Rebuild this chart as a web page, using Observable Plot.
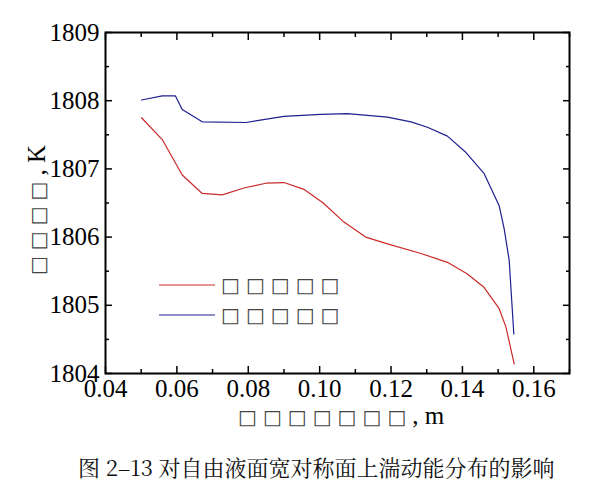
<!DOCTYPE html>
<html><head><meta charset="utf-8">
<script src="https://cdn.jsdelivr.net/npm/d3@7"></script>
<script src="https://cdn.jsdelivr.net/npm/@observablehq/plot@0.6"></script>
<style>
body{margin:0;background:#fff;}
#wrap{position:relative;width:616px;height:481px;font-family:"Liberation Serif",serif;color:#000;}
#wrap svg{position:absolute;left:0;top:0;}
.lab{position:absolute;white-space:nowrap;color:#000;line-height:1;font-family:"Liberation Serif",serif;}
.box{font-family:"DejaVu Sans";font-size:20px;letter-spacing:6px;color:#444;}
</style></head><body><div id="wrap"></div>
<script>
// Red series
const redX = [0.0501,0.0559,0.0615,0.0671,0.0727,0.0788,0.0849,0.0900,0.0956,0.1010,0.1068,0.1129,0.1190,0.1284,0.1358,0.1414,0.1461,0.1503,0.1522,0.1545];
const redY = [1807.75,1807.43,1806.91,1806.64,1806.62,1806.72,1806.79,1806.80,1806.70,1806.50,1806.22,1806.00,1805.90,1805.76,1805.63,1805.46,1805.26,1804.95,1804.68,1804.14];
// Blue series
const blueX = [0.0501,0.0559,0.0596,0.0615,0.0671,0.0793,0.0900,0.1003,0.1078,0.1190,0.1256,0.1302,0.1358,0.1410,0.1461,0.1503,0.1517,0.1531,0.1544];
const blueY = [1808.01,1808.07,1808.07,1807.87,1807.69,1807.68,1807.77,1807.80,1807.81,1807.76,1807.69,1807.61,1807.48,1807.24,1806.93,1806.46,1806.12,1805.66,1804.58];
const seriesNames = ["□□□□□","□□□□□"];
const seriesColors = ["#cc2a2a","#1f1f8f"];
const xMajor = [0.04,0.06,0.08,0.10,0.12,0.14,0.16];
const xMinor = [0.05,0.07,0.09,0.11,0.13,0.15,0.17];
const yMajor = [1804,1805,1806,1807,1808,1809];
const yMinor = [1804.5,1805.5,1806.5,1807.5,1808.5];
const xLabel = "□□□□□□□";
const xUnit = ", m";
const yLabel = "□□□□";
const yUnit = ", K";
const caption = "图 2–13 对自由液面宽对称面上湍动能分布的影响";

const red = redX.map((x,i)=>({x, y:redY[i]}));
const blue = blueX.map((x,i)=>({x, y:blueY[i]}));
const blank = () => "";
const FF = "Liberation Serif";

const plot = Plot.plot({
  width: 616, height: 440,
  marginLeft: 105, marginRight: 47, marginTop: 32, marginBottom: 67,
  style: {fontFamily: FF, fontSize: "25px", color: "#000", background: "transparent"},
  x: {domain: [0.04, 0.17]},
  y: {domain: [1804, 1809]},
  marks: [
    Plot.axisX(xMajor, {anchor: "bottom", tickSize: -7, tickPadding: 13, tickFormat: d => d.toFixed(2), fontSize: 25, fontFamily: FF, label: null, strokeWidth: 1.5}),
    Plot.axisX(xMinor, {anchor: "bottom", tickSize: -4, tickFormat: blank, label: null, strokeWidth: 1.5}),
    Plot.axisX(xMajor, {anchor: "top", tickSize: -7, tickFormat: blank, label: null, strokeWidth: 1.5}),
    Plot.axisX(xMinor, {anchor: "top", tickSize: -4, tickFormat: blank, label: null, strokeWidth: 1.5}),
    Plot.axisY(yMajor, {anchor: "left", tickSize: -7, tickPadding: 13, tickFormat: d => String(d), fontSize: 25, fontFamily: FF, label: null, strokeWidth: 1.5}),
    Plot.axisY(yMinor, {anchor: "left", tickSize: -4, tickFormat: blank, label: null, strokeWidth: 1.5}),
    Plot.axisY(yMajor, {anchor: "right", tickSize: -7, tickFormat: blank, label: null, strokeWidth: 1.5}),
    Plot.axisY(yMinor, {anchor: "right", tickSize: -4, tickFormat: blank, label: null, strokeWidth: 1.5}),
    Plot.line(red, {x: "x", y: "y", stroke: seriesColors[0], strokeWidth: 1.2}),
    Plot.line(blue, {x: "x", y: "y", stroke: seriesColors[1], strokeWidth: 1.2}),
    Plot.frame({stroke: "#000", strokeWidth: 2})
  ]
});
const wrap = document.getElementById("wrap");
wrap.appendChild(plot);

function addLabel(html, css) {
  const d = document.createElement("div");
  d.className = "lab";
  d.innerHTML = html;
  Object.assign(d.style, css);
  wrap.appendChild(d);
  return d;
}
// x axis title
addLabel(`<span class="box">${xLabel}</span><span style="font-size:25px">${xUnit}</span>`, {left: "238px", top: "403px"});
// y axis title (rotated)
addLabel(`<span class="box">${yLabel}</span><span style="font-size:25px">${yUnit}</span>`, {left: "36px", top: "210px", transform: "translate(-50%,-50%) rotate(-90deg)"});
// legend
const ns = "http://www.w3.org/2000/svg";
seriesNames.forEach((name, i) => {
  const cy = 285 + i * 30;
  const s = document.createElementNS(ns, "svg");
  s.setAttribute("width", 56); s.setAttribute("height", 4);
  s.style.left = "159px"; s.style.top = (cy - 2) + "px";
  const l = document.createElementNS(ns, "line");
  l.setAttribute("x1", 0); l.setAttribute("x2", 56); l.setAttribute("y1", 2); l.setAttribute("y2", 2);
  l.setAttribute("stroke", seriesColors[i]); l.setAttribute("stroke-width", 1.2);
  s.appendChild(l); wrap.appendChild(s);
  addLabel(`<span class="box">${name}</span>`, {left: "221px", top: (cy - 14) + "px", height: "28px", lineHeight: "28px"});
});
// caption
addLabel(caption, {left: "78px", top: "456px", fontFamily: "'Noto Serif CJK SC'", fontSize: "22px", color: "#111"});
</script></body></html>
